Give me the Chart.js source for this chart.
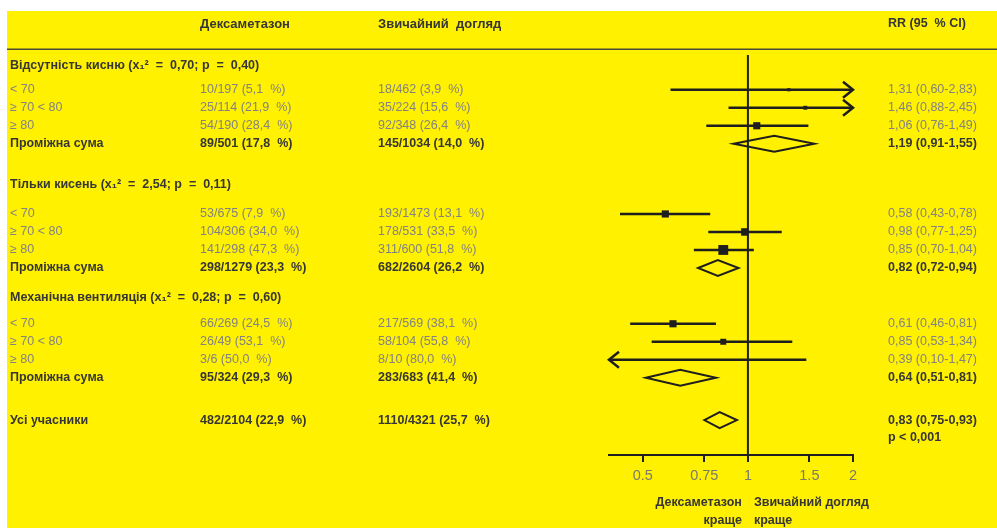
<!DOCTYPE html>
<html>
<head>
<meta charset="utf-8">
<script src="https://cdn.jsdelivr.net/npm/chart.js@4/dist/chart.umd.min.js"></script>
<style>
  html, body { margin: 0; padding: 0; background: #fff; }
  #wrap { width: 997px; height: 529px; position: relative; }
</style>
</head>
<body>
<div id="wrap"><canvas id="forest"></canvas></div>
<script>
// groups and subgroups
const groupNames = ['Відсутність кисню', 'Тільки кисень', 'Механічна вентиляція'];
const groupChi = ['0,70', '2,54', '0,28'];
const groupP = ['0,40', '0,11', '0,60'];
const subgroups = ['< 70', '≥ 70 < 80', '≥ 80'];
const subtotalLabel = 'Проміжна сума';
const totalLabel = 'Усі учасники';
const totalP = 'p < 0,001';

// per row: 3 subgroups + subtotal for each group, then all participants
const dexaEvents = [10, 25, 54, 89, 53, 104, 141, 298, 66, 26, 3, 95, 482];
const dexaTotals = [197, 114, 190, 501, 675, 306, 298, 1279, 269, 49, 6, 324, 2104];
const careEvents = [18, 35, 92, 145, 193, 178, 311, 682, 217, 58, 8, 283, 1110];
const careTotals = [462, 224, 348, 1034, 1473, 531, 600, 2604, 569, 104, 10, 683, 4321];
const rr = [1.31, 1.46, 1.06, 1.19, 0.58, 0.98, 0.85, 0.82, 0.61, 0.85, 0.39, 0.64, 0.83];
const ciLow = [0.60, 0.88, 0.76, 0.91, 0.43, 0.77, 0.70, 0.72, 0.46, 0.53, 0.10, 0.51, 0.75];
const ciHigh = [2.83, 2.45, 1.49, 1.55, 0.78, 1.25, 1.04, 0.94, 0.81, 1.34, 1.47, 0.81, 0.93];
const weights = [1, 1.5, 5, null, 5, 5.5, 9.5, null, 5, 3.5, 0.2, null, null];

// axis
const tickValues = [0.5, 0.75, 1, 1.5, 2];
const tickLabels = ['0.5', '0.75', '1', '1.5', '2'];
const xMin = 0.4, xMax = 2;
const favourLeft = ['Дексаметазон', 'краще'];
const favourRight = ['Звичайний догляд', 'краще'];
const headers = ['Дексаметазон', 'Звичайний  догляд', 'RR (95  % CI)'];

const YELLOW = '#fff100';
const INK = '#1e1e1e';
const DARK = '#363636';
const GREY = '#828282';
const FONT = '"Liberation Sans", Arial, sans-serif';

// row layout (in row units)
const headerGap = [0, 2.25, 1.65];
const firstRowGap = [1.35, 1.65, 1.45];
const rows = [];
let yv = 0;
groupNames.forEach((g, gi) => {
  yv += headerGap[gi];
  rows.push({ kind: 'group', g: gi, y: yv });
  yv += firstRowGap[gi];
  for (let k = 0; k < 4; k++) {
    if (k > 0) yv += 1;
    rows.push({ kind: k < 3 ? 'study' : 'sum', i: gi * 4 + k, sub: k, y: yv });
  }
});
yv += 2.35;
rows.push({ kind: 'total', i: 12, y: yv });
const pRowY = yv + 0.95;

function pct(e, t) {
  return e + '/' + t + ' (' + (100 * e / t).toFixed(1).replace('.', ',') + '  %)';
}
function num(v) { return v.toFixed(2).replace('.', ','); }

const studyRows = rows.filter(r => r.kind === 'study');

const datasets = [{
  type: 'scatter',
  order: 0,
  data: studyRows.filter(r => rr[r.i] >= xMin && rr[r.i] <= xMax).map(r => ({ x: rr[r.i], y: r.y, w: weights[r.i] })),
  pointStyle: 'rect',
  pointRadius: ctx => ctx.raw ? 1.6 * Math.sqrt(ctx.raw.w) * Math.SQRT2 : 0,
  backgroundColor: INK,
  borderColor: INK,
  borderWidth: 0
}];
studyRows.forEach(r => {
  datasets.push({
    type: 'line',
    order: 1,
    data: [{ x: ciLow[r.i], y: r.y }, { x: ciHigh[r.i], y: r.y }],
    borderColor: INK,
    borderWidth: 2.5,
    pointRadius: 0
  });
});

const forestPlugin = {
  id: 'forest',
  beforeDraw(chart) {
    const c = chart.ctx;
    c.save();
    c.fillStyle = '#fff';
    c.fillRect(0, 0, chart.width, chart.height);
    c.fillStyle = YELLOW;
    c.fillRect(7, 11, chart.width - 7, 517);
    c.restore();
  },
  beforeDatasetsDraw(chart) {
    const c = chart.ctx, x = chart.scales.x, a = chart.chartArea;
    const px = x.getPixelForValue(1);
    c.save();
    c.strokeStyle = INK;
    c.lineWidth = 2;
    c.beginPath();
    c.moveTo(px, a.top);
    c.lineTo(px, a.bottom);
    c.stroke();
    c.restore();
  },
  afterDatasetsDraw(chart) {
    const c = chart.ctx, x = chart.scales.x, y = chart.scales.y;
    c.save();
    c.strokeStyle = INK;
    c.lineWidth = 2.5;
    // arrows for intervals running off the axis
    studyRows.forEach(r => {
      const py = y.getPixelForValue(r.y);
      if (ciHigh[r.i] > xMax) {
        const tip = x.getPixelForValue(xMax);
        c.beginPath();
        c.moveTo(tip - 10, py - 8); c.lineTo(tip, py); c.lineTo(tip - 10, py + 8);
        c.stroke();
      }
      if (ciLow[r.i] < xMin) {
        const tip = x.getPixelForValue(xMin);
        c.beginPath();
        c.moveTo(tip + 10, py - 8); c.lineTo(tip, py); c.lineTo(tip + 10, py + 8);
        c.stroke();
      }
    });
    // diamonds
    c.lineWidth = 2;
    rows.filter(r => r.kind === 'sum' || r.kind === 'total').forEach(r => {
      const py = y.getPixelForValue(r.y);
      const l = x.getPixelForValue(ciLow[r.i]);
      const m = x.getPixelForValue(rr[r.i]);
      const h = x.getPixelForValue(ciHigh[r.i]);
      c.beginPath();
      c.moveTo(l, py); c.lineTo(m, py - 8); c.lineTo(h, py); c.lineTo(m, py + 8);
      c.closePath();
      c.stroke();
    });
    c.restore();
  },
  afterDraw(chart) {
    const c = chart.ctx, x = chart.scales.x, y = chart.scales.y, a = chart.chartArea;
    const colLabel = 10, colDexa = 200, colCare = 378, colRR = 888;
    c.save();
    c.textBaseline = 'middle';
    const text = (s, px, py, bold, color, align, size) => {
      c.font = (bold ? 'bold ' : '') + (size || 12.5) + 'px ' + FONT;
      c.fillStyle = color;
      c.textAlign = align || 'left';
      c.fillText(s, px, py);
    };
    // header
    const hy = y.getPixelForValue(-2.3);
    text(headers[0], colDexa, hy, true, DARK, 'left', 13);
    text(headers[1], colCare, hy, true, DARK, 'left', 13);
    text(headers[2], colRR, hy, true, DARK, 'left', 12.5);
    const ly = y.getPixelForValue(-0.9);
    c.strokeStyle = '#4a4a30';
    c.lineWidth = 1.6;
    c.beginPath();
    c.moveTo(7, ly); c.lineTo(chart.width, ly);
    c.stroke();

    rows.forEach(r => {
      const py = y.getPixelForValue(r.y);
      if (r.kind === 'group') {
        text(groupNames[r.g] + ' (x\u2081\u00b2  =  ' + groupChi[r.g] + '; p  =  ' + groupP[r.g] + ')', colLabel, py, true, DARK);
        return;
      }
      const bold = r.kind !== 'study';
      const col = bold ? DARK : GREY;
      const label = r.kind === 'study' ? subgroups[r.sub] : (r.kind === 'sum' ? subtotalLabel : totalLabel);
      text(label, colLabel, py, bold, col);
      text(pct(dexaEvents[r.i], dexaTotals[r.i]), colDexa, py, bold, col);
      text(pct(careEvents[r.i], careTotals[r.i]), colCare, py, bold, col);
      text(num(rr[r.i]) + ' (' + num(ciLow[r.i]) + '-' + num(ciHigh[r.i]) + ')', colRR, py, bold, col);
    });
    text(totalP, colRR, y.getPixelForValue(pRowY), true, DARK);

    // favour labels
    const mid = x.getPixelForValue(1);
    const fy = a.bottom + 48;
    text(favourLeft[0], mid - 6, fy, true, DARK, 'right');
    text(favourLeft[1], mid - 6, fy + 18, true, DARK, 'right');
    text(favourRight[0], mid + 6, fy, true, DARK, 'left');
    text(favourRight[1], mid + 6, fy + 18, true, DARK, 'left');
    c.restore();
  }
};

new Chart(document.getElementById('forest'), {
  data: { datasets: datasets },
  options: {
    responsive: true,
    maintainAspectRatio: false,
    animation: false,
    layout: { padding: { left: 609, right: 144, top: 55, bottom: 34 } },
    plugins: { legend: { display: false }, tooltip: { enabled: false } },
    scales: {
      x: {
        type: 'logarithmic',
        min: xMin,
        max: xMax,
        afterBuildTicks: s => { s.ticks = tickValues.map(v => ({ value: v })); },
        afterFit: s => { s.height = 40; },
        grid: { drawOnChartArea: false, drawTicks: true, tickLength: 7, color: INK, lineWidth: 2 },
        border: { display: true, color: INK, width: 2 },
        ticks: {
          callback: (v, i) => tickLabels[i],
          font: { family: FONT, size: 14.5 },
          color: '#7a7a6a',
          padding: 5,
          maxRotation: 0,
          autoSkip: false
        }
      },
      y: {
        type: 'linear',
        min: -0.58,
        max: 21.64,
        reverse: true,
        display: false
      }
    }
  },
  plugins: [forestPlugin]
});
</script>
</body>
</html>
